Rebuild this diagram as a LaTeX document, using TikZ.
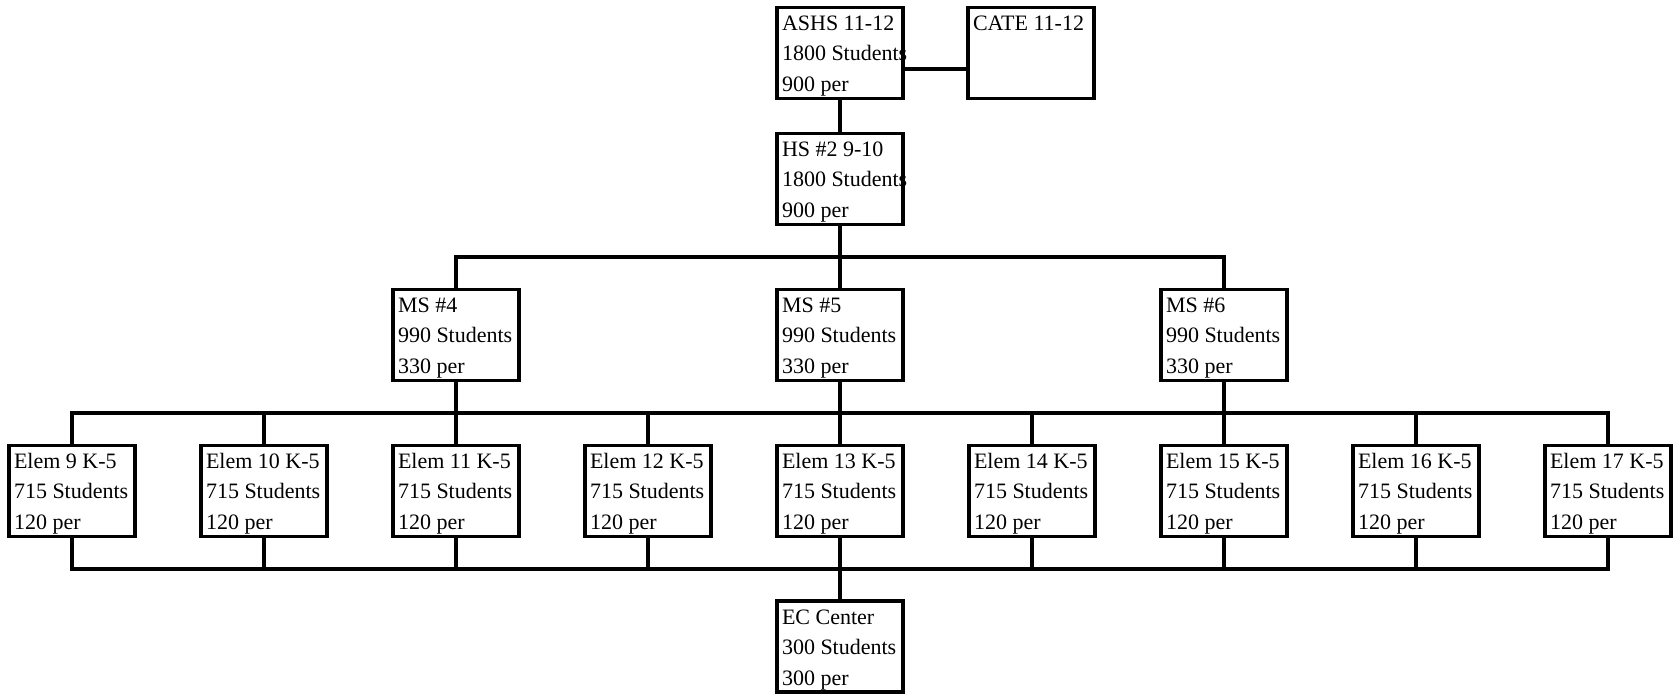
\documentclass[tikz,border=0pt]{standalone}
\usepackage{fontspec}
\setmainfont{Liberation Serif}
\usepackage{tikz}
\tikzstyle{school}=[rectangle,draw=black,line width=1.6pt,
                    minimum width=63pt,minimum height=45.5pt,
                    inner xsep=2.5pt,inner ysep=0pt,align=left,
                    font=\fontsize{11}{15.25}\selectfont]

\begin{document}
\begin{tikzpicture}[x=0.5pt,y=-0.5pt,line width=1.6pt]
    \newcommand{\sch}[3]{\rule{0pt}{10.4pt}\makebox[58pt][l]{#1}\\
      \makebox[58pt][l]{#2}\\\makebox[58pt][l]{#3}\rule[-2.4pt]{0pt}{2.4pt}}
    \useasboundingbox (0,0) rectangle (1675,694);
    \coordinate (upbus) at (0,257);
    \coordinate (midbus) at (0,413);
    \coordinate (lowbus) at (0,569);
    \node (ashs) at (840,53) [school]{\sch{ASHS 11-12}{1800 Students}{900 per}};
    \node (cate) at (1031,53) [school]{\sch{CATE 11-12}{}{}};
    \node (hs2) at (840,179) [school]{\sch{HS \#2 9-10}{1800 Students}{900 per}};
    \node (ms4) at (456,335) [school]{\sch{MS \#4}{990 Students}{330 per}};
    \node (ms5) at (840,335) [school]{\sch{MS \#5}{990 Students}{330 per}};
    \node (ms6) at (1224,335) [school]{\sch{MS \#6}{990 Students}{330 per}};
    \node (el9) at (72,491) [school]{\sch{Elem 9 K-5}{715 Students}{120 per}};
    \node (el10) at (264,491) [school]{\sch{Elem 10 K-5}{715 Students}{120 per}};
    \node (el11) at (456,491) [school]{\sch{Elem 11 K-5}{715 Students}{120 per}};
    \node (el12) at (648,491) [school]{\sch{Elem 12 K-5}{715 Students}{120 per}};
    \node (el13) at (840,491) [school]{\sch{Elem 13 K-5}{715 Students}{120 per}};
    \node (el14) at (1032,491) [school]{\sch{Elem 14 K-5}{715 Students}{120 per}};
    \node (el15) at (1224,491) [school]{\sch{Elem 15 K-5}{715 Students}{120 per}};
    \node (el16) at (1416,491) [school]{\sch{Elem 16 K-5}{715 Students}{120 per}};
    \node (el17) at (1608,491) [school]{\sch{Elem 17 K-5}{715 Students}{120 per}};
    \node (ec) at (840,646.5) [school]{\sch{EC Center}{300 Students}{300 per}};
    \draw ([yshift=-8pt]ashs.east) -- ([yshift=-8pt]ashs.east -| cate.west);
    \draw (ashs) -- (hs2) (hs2) -- (ms5) (ms5) -- (el13) (el13) -- (ec);
    \draw (ms4.north) -- (ms4.north |- upbus) -- (ms6.north |- upbus) -- (ms6.north);
    \draw (ms4) -- (el11) (ms6) -- (el15);
    \draw (el9.north) -- (el9.north |- midbus) -- (el17.north |- midbus) -- (el17.north)
          (el10.north) -- (el10.north |- midbus) (el12.north) -- (el12.north |- midbus)
          (el14.north) -- (el14.north |- midbus) (el16.north) -- (el16.north |- midbus);
    \draw (el9.south) -- (el9.south |- lowbus) -- (el17.south |- lowbus) -- (el17.south)
          (el10.south) -- (el10.south |- lowbus) (el11.south) -- (el11.south |- lowbus)
          (el12.south) -- (el12.south |- lowbus) (el14.south) -- (el14.south |- lowbus)
          (el15.south) -- (el15.south |- lowbus) (el16.south) -- (el16.south |- lowbus);
  \end{tikzpicture}
\end{document}
